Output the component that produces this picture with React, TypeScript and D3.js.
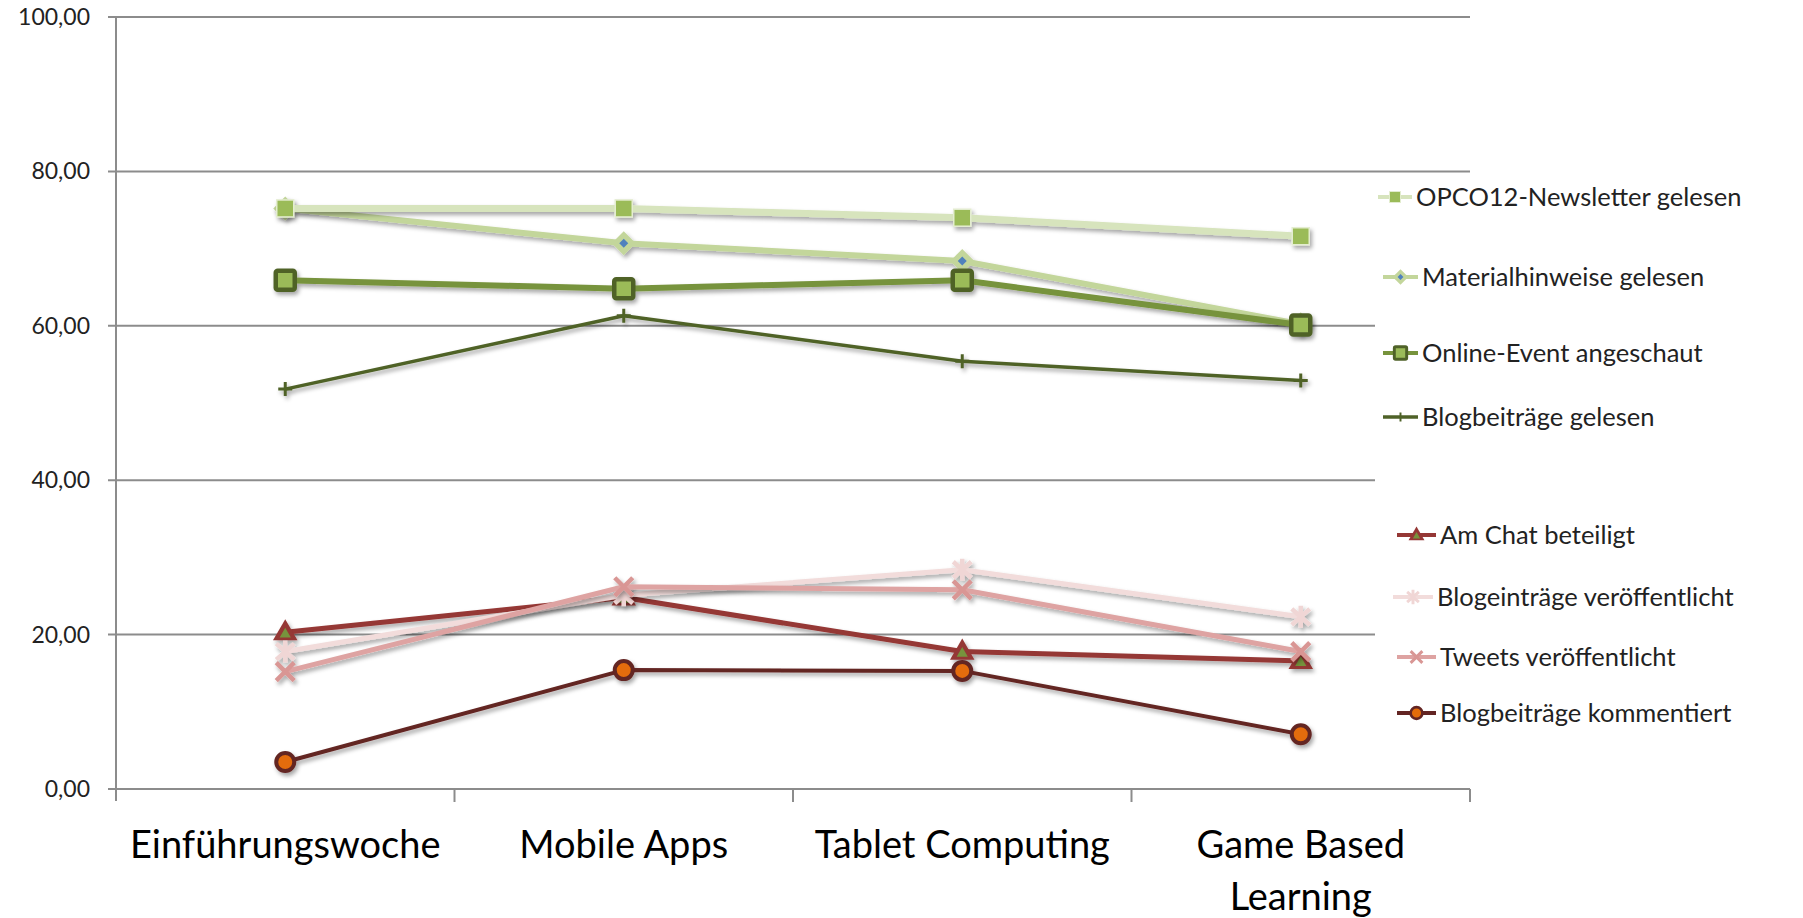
import * as d3 from "d3"
import React from "react"

// categories (weeks of the course)
const categories = ["Einführungswoche", "Mobile Apps", "Tablet Computing", "Game Based Learning"]
const categoryLines = [["Einführungswoche"], ["Mobile Apps"], ["Tablet Computing"], ["Game Based", "Learning"]]

// series values (percent)
const newsletterGelesen = [75.2, 75.2, 74.0, 71.6]
const materialGelesen = [75.2, 70.7, 68.4, 60.2]
const onlineEvent = [65.9, 64.8, 65.9, 60.1]
const blogGelesen = [51.8, 61.3, 55.4, 52.9]
const chatBeteiligt = [20.3, 24.8, 17.8, 16.6]
const blogeintraegeVeroeffentlicht = [17.8, 25.1, 28.4, 22.3]
const tweetsVeroeffentlicht = [15.2, 26.2, 25.8, 17.8]
const blogKommentiert = [3.5, 15.4, 15.3, 7.1]

const yTicks = [0, 20, 40, 60, 80, 100]

type Marker = "square" | "diamond" | "squareBig" | "plus" | "triangle" | "asterisk" | "x" | "circle"

interface Series {
  name: string
  values: number[]
  line: string
  width: number
  marker: Marker
  fill: string
  stroke: string
}

const series: Series[] = [
  { name: "Materialhinweise gelesen", values: materialGelesen, line: "#c3d69b", width: 6, marker: "diamond", fill: "#4f81bd", stroke: "#c3d69b" },
  { name: "OPCO12-Newsletter gelesen", values: newsletterGelesen, line: "#d7e4bd", width: 7, marker: "square", fill: "#9bbb59", stroke: "#e4edd0" },
  { name: "Online-Event angeschaut", values: onlineEvent, line: "#77933c", width: 6, marker: "squareBig", fill: "#9bbb59", stroke: "#4f6228" },
  { name: "Blogbeiträge gelesen", values: blogGelesen, line: "#4f6228", width: 3.5, marker: "plus", fill: "none", stroke: "#4f6228" },
  { name: "Am Chat beteiligt", values: chatBeteiligt, line: "#953735", width: 5, marker: "triangle", fill: "#77933c", stroke: "#953735" },
  { name: "Blogeinträge veröffentlicht", values: blogeintraegeVeroeffentlicht, line: "#f2dcdb", width: 5, marker: "asterisk", fill: "none", stroke: "#f0d6d5" },
  { name: "Tweets veröffentlicht", values: tweetsVeroeffentlicht, line: "#dea3a2", width: 5, marker: "x", fill: "none", stroke: "#d99694" },
  { name: "Blogbeiträge kommentiert", values: blogKommentiert, line: "#632523", width: 4, marker: "circle", fill: "#e46c0a", stroke: "#632523" },
]

// legend order as shown, with hand placed rows
const legendOrder = [
  "OPCO12-Newsletter gelesen",
  "Materialhinweise gelesen",
  "Online-Event angeschaut",
  "Blogbeiträge gelesen",
  "Am Chat beteiligt",
  "Blogeinträge veröffentlicht",
  "Tweets veröffentlicht",
  "Blogbeiträge kommentiert",
]
const legendRows = [
  { y: 197, x0: 1378, x1: 1412 },
  { y: 277, x0: 1383, x1: 1418 },
  { y: 353, x0: 1383, x1: 1418 },
  { y: 417, x0: 1383, x1: 1418 },
  { y: 535, x0: 1397, x1: 1436 },
  { y: 597, x0: 1393, x1: 1433 },
  { y: 657, x0: 1397, x1: 1436 },
  { y: 713, x0: 1397, x1: 1436 },
]

const W = 1803
const H = 918
const left = 116
const right = 1470
const top = 17
const bottom = 789
const font = "Lato, 'Open Sans', sans-serif"
const gridColor = "#8c8c8c"

function MarkerShape({ s, x, y, scale = 1 }: { s: Series; x: number; y: number; scale?: number }) {
  const t = `translate(${x},${y}) scale(${scale})`
  switch (s.marker) {
    case "square":
      return <rect transform={t} x={-8.5} y={-8.5} width={17} height={17} fill={s.fill} stroke={s.stroke} strokeWidth={1.5} />
    case "squareBig":
      return <rect transform={t} x={-9.5} y={-9.5} width={19} height={19} rx={2} fill={s.fill} stroke={s.stroke} strokeWidth={4.5} />
    case "diamond":
      return (
        <g transform={t}>
          <path d="M0,-12L12,0L0,12L-12,0Z" fill={s.stroke} />
          <path d="M0,-4.5L4.5,0L0,4.5L-4.5,0Z" fill={s.fill} />
        </g>
      )
    case "plus":
      return <path transform={t} d="M-7,0H7M0,-7V7" stroke={s.stroke} strokeWidth={3} />
    case "triangle":
      return (
        <g transform={t}>
          <path d={d3.symbol(d3.symbolTriangle, 260)() || ""} fill={s.stroke} transform="translate(0,1)" />
          <path d={d3.symbol(d3.symbolTriangle, 55)() || ""} fill={s.fill} transform="translate(0,2)" />
        </g>
      )
    case "x":
      return <path transform={t} d="M-9,-9L9,9M-9,9L9,-9" stroke={s.stroke} strokeWidth={4.5} />
    case "asterisk":
      return <path transform={t} d="M-9,-8L9,8M-9,8L9,-8M0,-11V11" stroke={s.stroke} strokeWidth={4.5} />
    case "circle":
      return <circle transform={t} r={9} fill={s.fill} stroke={s.stroke} strokeWidth={4} />
  }
}

export default function App() {
  const x = d3.scaleBand<string>().domain(categories).range([left, right])
  const y = d3.scaleLinear().domain([0, 100]).range([bottom, top])
  const cx = (c: string) => (x(c) ?? 0) + x.bandwidth() / 2

  const line = d3
    .line<number>()
    .x((_, i) => cx(categories[i]))
    .y((v) => y(v))

  const boundaries = [...categories.map((c) => x(c) ?? 0), right]

  return (
    <svg width={W} height={H} style={{ position: "absolute", left: 0, top: 0, background: "#fff" }}>
      <defs>
        <filter id="shadow" x="-10%" y="-10%" width="120%" height="130%">
          <feDropShadow dx="2" dy="3" stdDeviation="2" floodColor="#000" floodOpacity="0.35" />
        </filter>
      </defs>

      {/* grid + y ticks */}
      {yTicks.map((t) => (
        <g key={t}>
          <line x1={left - 8} x2={right} y1={y(t)} y2={y(t)} stroke={gridColor} strokeWidth={2} />
          <text x={90} y={y(t) + 8} textAnchor="end" fontFamily={font} fontSize={23} fill="#222">
            {d3.format(".2f")(t).replace(".", ",")}
          </text>
        </g>
      ))}
      <line x1={left} x2={left} y1={top} y2={bottom + 12} stroke={gridColor} strokeWidth={2} />
      {boundaries.slice(1).map((b, i) => (
        <line key={i} x1={b} x2={b} y1={bottom} y2={bottom + 13} stroke={gridColor} strokeWidth={2} />
      ))}

      {/* x labels */}
      {categories.map((c, i) => (
        <text key={c} x={cx(c)} textAnchor="middle" fontFamily={font} fontSize={38} fill="#000">
          {categoryLines[i].map((l, j) => (
            <tspan key={j} x={cx(c)} y={858 + j * 52}>
              {l}
            </tspan>
          ))}
        </text>
      ))}

      {/* legend box covers the grid */}
      <rect x={1375} y={180} width={W - 1375} height={560} fill="#fff" />

      {/* series */}
      {series.map((s) => (
        <g key={s.name} filter="url(#shadow)">
          <path d={line(s.values) || ""} fill="none" stroke={s.line} strokeWidth={s.width} strokeLinejoin="round" />
          {s.values.map((v, i) => (
            <MarkerShape key={i} s={s} x={cx(categories[i])} y={y(v)} />
          ))}
        </g>
      ))}

      {/* legend */}
      {legendOrder.map((name, i) => {
        const s = series.find((d) => d.name === name)!
        const r = legendRows[i]
        return (
          <g key={name}>
            <line x1={r.x0} x2={r.x1} y1={r.y} y2={r.y} stroke={s.line} strokeWidth={Math.min(s.width, 4)} />
            <MarkerShape s={s} x={(r.x0 + r.x1) / 2} y={r.y} scale={0.65} />
            <text x={r.x1 + 4} y={r.y + 8.5} fontFamily={font} fontSize={25.5} fill="#222">
              {name}
            </text>
          </g>
        )
      })}
    </svg>
  )
}
